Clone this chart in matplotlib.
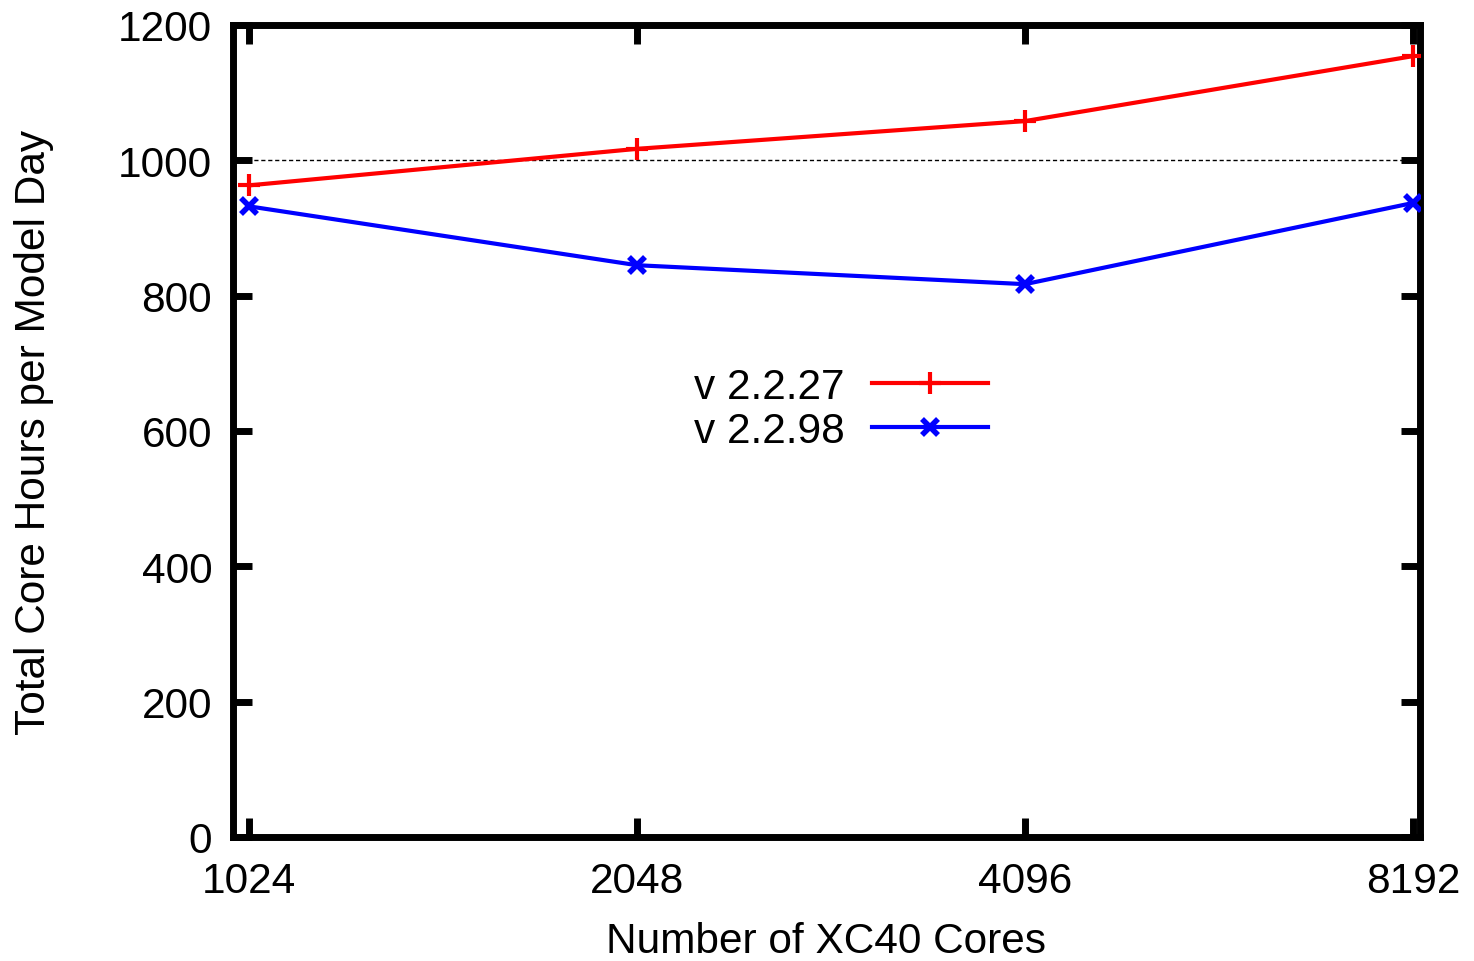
import matplotlib
matplotlib.use("Agg")
import matplotlib.pyplot as plt
from matplotlib.ticker import FixedLocator, FixedFormatter, NullLocator

cores = [1024, 2048, 4096, 8192]
v22227 = [963, 1017, 1058, 1154]
v22298 = [932, 845, 817, 937]
xtick_labels = ["1024", "2048", "4096", "8192"]
yticks = [0, 200, 400, 600, 800, 1000, 1200]

plt.rcParams['font.family'] = ['Liberation Sans', 'DejaVu Sans']

W, H = 1474, 962
fig = plt.figure(figsize=(W / 100, H / 100), dpi=100)
ax = fig.add_axes([233 / W, 1 - 838 / H, (1420 - 233) / W, (838 - 26) / H])

ax.set_xscale('log', base=2)
ax.set_xlim(995, 8295)
ax.set_ylim(0, 1200)

ax.axhline(1000, color='black', lw=1.0, ls=(0, (3, 2)), zorder=1)

l1, = ax.plot(cores, v22227, color='#ff0000', lw=3, marker='+', ms=16, mew=3, label='v 2.2.27', zorder=3)
l2, = ax.plot(cores, v22298, color='#0000ff', lw=3, marker='x', ms=12, mew=4, label='v 2.2.98', zorder=3)

ax.xaxis.set_major_locator(FixedLocator(cores))
ax.xaxis.set_major_formatter(FixedFormatter(xtick_labels))
ax.xaxis.set_minor_locator(NullLocator())
ax.set_yticks(yticks)

fs = 30.5
for s in ax.spines.values():
    s.set_linewidth(5)
ax.tick_params(axis='both', which='major', direction='in', length=14, width=5,
               top=True, right=True, labelsize=fs)
ax.tick_params(axis='y', pad=15)
ax.tick_params(axis='x', pad=17)

ax.set_xlabel('Number of XC40 Cores', fontsize=fs, labelpad=15)
ax.set_ylabel('Total Core Hours per Model Day', fontsize=fs, labelpad=46)

leg = ax.legend(handles=[l1, l2], loc='center',
                bbox_to_anchor=((841 - 233) / (1420 - 233), (838 - 410) / (838 - 26)),
                frameon=False, fontsize=fs, markerfirst=False, handlelength=2.75,
                handletextpad=0.65, labelspacing=0.1)
for t in leg.get_texts():
    t.set_ha('right')

fig.savefig('out.png', dpi=100)
